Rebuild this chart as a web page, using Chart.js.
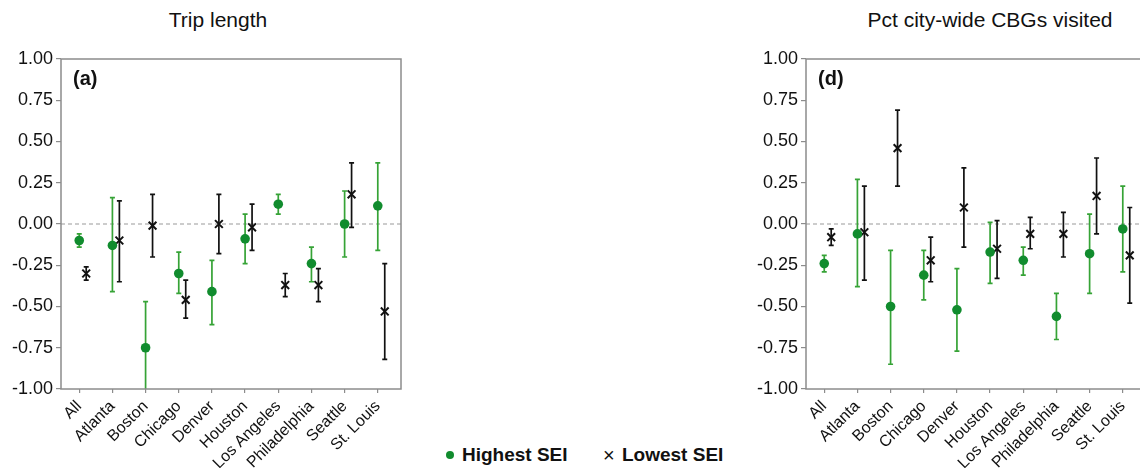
<!DOCTYPE html>
<html>
<head>
<meta charset="utf-8">
<script src="https://cdn.jsdelivr.net/npm/chart.js"></script>
<style>
  body { margin: 0; width: 1140px; height: 468px; overflow: hidden; background: #fff;
         position: relative; font-family: "Liberation Sans", Arial, sans-serif; color: #111; }
  .panel { position: absolute; top: 0; width: 420px; height: 468px; }
  .title { position: absolute; top: 8px; width: 400px; text-align: center; font-size: 21px; line-height: 24px; }
  .legend { position: absolute; top: 445px; font-size: 19px; line-height: 20px; font-weight: bold; white-space: nowrap; }
  .dot { position: absolute; width: 8px; height: 8px; border-radius: 50%; background: #118c2e; }
</style>
</head>
<body>
<div class="title" style="left:18px">Trip length</div>
<div class="title" style="left:790px">Pct city-wide CBGs visited</div>

<div class="panel" style="left:0"><canvas id="chartA" width="420" height="468"></canvas></div>
<div class="panel" style="left:745px"><canvas id="chartD" width="420" height="468"></canvas></div>

<div class="dot" style="left:446px; top:451px"></div>
<div class="legend" style="left:462px">Highest SEI</div>
<div class="legend" style="left:603px; font-weight:normal; font-size:20px">&times;</div>
<div class="legend" style="left:622px">Lowest SEI</div>

<script>
// data
const cities = ['All', 'Atlanta', 'Boston', 'Chicago', 'Denver', 'Houston', 'Los Angeles', 'Philadelphia', 'Seattle', 'St. Louis'];

// (a) Trip length
const tripHigh   = [-0.10, -0.13, -0.75, -0.30, -0.41, -0.09,  0.12, -0.24,  0.00,  0.11];
const tripHighLo = [-0.14, -0.41, -1.03, -0.42, -0.61, -0.24,  0.06, -0.35, -0.20, -0.16];
const tripHighHi = [-0.06,  0.16, -0.47, -0.17, -0.22,  0.06,  0.18, -0.14,  0.20,  0.37];
const tripLow    = [-0.30, -0.10, -0.01, -0.46,  0.00, -0.02, -0.37, -0.37,  0.18, -0.53];
const tripLowLo  = [-0.34, -0.35, -0.20, -0.57, -0.18, -0.16, -0.44, -0.47, -0.02, -0.82];
const tripLowHi  = [-0.26,  0.14,  0.18, -0.34,  0.18,  0.12, -0.30, -0.27,  0.37, -0.24];

// (d) Pct city-wide CBGs visited
const cbgHigh   = [-0.24, -0.06, -0.50, -0.31, -0.52, -0.17, -0.22, -0.56, -0.18, -0.03];
const cbgHighLo = [-0.29, -0.38, -0.85, -0.46, -0.77, -0.36, -0.31, -0.70, -0.42, -0.29];
const cbgHighHi = [-0.19,  0.27, -0.16, -0.16, -0.27,  0.01, -0.14, -0.42,  0.06,  0.23];
const cbgLow    = [-0.08, -0.05,  0.46, -0.22,  0.10, -0.15, -0.06, -0.06,  0.17, -0.19];
const cbgLowLo  = [-0.13, -0.34,  0.23, -0.35, -0.14, -0.33, -0.15, -0.20, -0.06, -0.48];
const cbgLowHi  = [-0.03,  0.23,  0.69, -0.08,  0.34,  0.02,  0.04,  0.07,  0.40,  0.10];

const yTicks = [-1, -0.75, -0.5, -0.25, 0, 0.25, 0.5, 0.75, 1];

const FONT = '"Liberation Sans", Arial, sans-serif';
const AXIS = '#8c8c8c';
const GREEN = '#118c2e';
const GREEN_ERR = '#36a336';
const OFFSET = 0.21;   // lowest-SEI marker sits a bit right of the category

// error bars, zero line, frame and panel letter
const errorBars = {
  id: 'errorBars',
  beforeDatasetsDraw(chart) {
    const { ctx, chartArea: a, scales: { x, y } } = chart;
    ctx.save();
    ctx.beginPath();
    ctx.rect(a.left, a.top, a.width, a.height);
    ctx.clip();

    const y0 = y.getPixelForValue(0);
    ctx.strokeStyle = '#999';
    ctx.lineWidth = 1;
    ctx.setLineDash([4, 3]);
    ctx.beginPath();
    ctx.moveTo(a.left, y0);
    ctx.lineTo(a.right, y0);
    ctx.stroke();
    ctx.setLineDash([]);

    chart.data.datasets.forEach(ds => {
      ctx.strokeStyle = ds.errColor;
      ctx.lineWidth = 1.7;
      ds.data.forEach((p, i) => {
        const px = x.getPixelForValue(p.x);
        const yl = y.getPixelForValue(ds.lo[i]);
        const yh = y.getPixelForValue(ds.hi[i]);
        ctx.beginPath();
        ctx.moveTo(px, yl); ctx.lineTo(px, yh);
        ctx.moveTo(px - 2.5, yl); ctx.lineTo(px + 2.5, yl);
        ctx.moveTo(px - 2.5, yh); ctx.lineTo(px + 2.5, yh);
        ctx.stroke();
      });
    });
    ctx.restore();
  },
  afterDraw(chart, args, opts) {
    const { ctx, chartArea: a } = chart;
    ctx.save();
    ctx.strokeStyle = AXIS;
    ctx.lineWidth = 1.5;
    ctx.strokeRect(a.left, a.top, a.width, a.height);
    ctx.fillStyle = '#111';
    ctx.font = 'bold 20px ' + FONT;
    ctx.textBaseline = 'middle';
    ctx.fillText(opts.letter, a.left + 12, a.top + 20);
    ctx.restore();
  }
};

function makeChart(id, letter, high, highLo, highHi, low, lowLo, lowHi) {
  return new Chart(document.getElementById(id), {
    type: 'scatter',
    data: {
      datasets: [{
        label: 'Highest SEI',
        data: cities.map((c, i) => ({ x: i, y: high[i] })),
        lo: highLo, hi: highHi, errColor: GREEN_ERR,
        pointStyle: 'circle', pointRadius: 4.8, pointHoverRadius: 4.8,
        backgroundColor: GREEN, borderWidth: 0
      }, {
        label: 'Lowest SEI',
        data: cities.map((c, i) => ({ x: i + OFFSET, y: low[i] })),
        lo: lowLo, hi: lowHi, errColor: '#111',
        pointStyle: 'crossRot', pointRadius: 5.5, pointHoverRadius: 5.5,
        borderColor: '#111', borderWidth: 2
      }]
    },
    options: {
      responsive: false,
      animation: false,
      layout: { padding: { top: 59, right: 19, bottom: 0, left: 0 } },
      plugins: {
        legend: { display: false },
        tooltip: { enabled: false },
        errorBars: { letter }
      },
      scales: {
        x: {
          type: 'linear',
          min: -0.55, max: 9.7,
          afterBuildTicks: s => { s.ticks = cities.map((c, i) => ({ value: i })); },
          afterFit: s => { s.height = 79; },
          border: { display: false },
          grid: { drawOnChartArea: false, drawTicks: true, tickLength: 4, color: AXIS, lineWidth: 1.2 },
          ticks: {
            autoSkip: false, minRotation: 45, maxRotation: 45, padding: 4,
            color: '#111', font: { family: FONT, size: 16 },
            callback: v => cities[v] ?? ''
          }
        },
        y: {
          min: -1, max: 1,
          afterBuildTicks: s => { s.ticks = yTicks.map(v => ({ value: v })); },
          afterFit: s => { s.width = 61; },
          border: { display: false },
          grid: { drawOnChartArea: false, drawTicks: true, tickLength: 5, color: AXIS, lineWidth: 1.2 },
          ticks: {
            padding: 3, color: '#111', font: { family: FONT, size: 18 },
            callback: v => v.toFixed(2)
          }
        }
      }
    },
    plugins: [errorBars]
  });
}

makeChart('chartA', '(a)', tripHigh, tripHighLo, tripHighHi, tripLow, tripLowLo, tripLowHi);
makeChart('chartD', '(d)', cbgHigh, cbgHighLo, cbgHighHi, cbgLow, cbgLowLo, cbgLowHi);
</script>
</body>
</html>
